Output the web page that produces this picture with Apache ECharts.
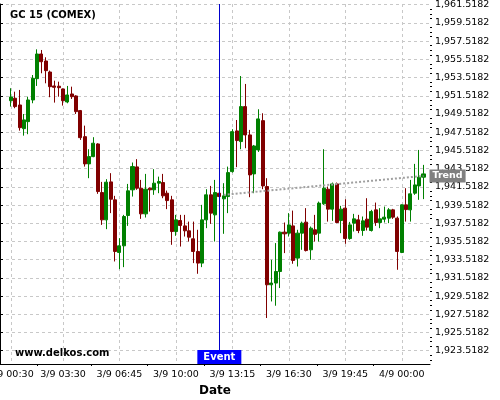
<!DOCTYPE html>
<html>
<head>
<meta charset="utf-8">
<script src="https://cdn.jsdelivr.net/npm/echarts@6/dist/echarts.min.js"></script>
<style>
  html, body { margin: 0; padding: 0; background: #fff; }
  #chart { width: 500px; height: 400px; }
</style>
</head>
<body>
<div id="chart"></div>
<script>
// 15 minute slots, 3/9 00:00 .. 4/9 01:30 (no quotes 22:00-22:45)
const times = [];
for (let m = 0; times.length < 99; m += 15) {
  const h = Math.floor(m / 60);
  if (h === 22) continue; // trading break
  const day = h < 24 ? '3/9' : '4/9';
  times.push(day + ' ' + String(h % 24).padStart(2, '0') + ':' + String(m % 60).padStart(2, '0'));
}

const tickLabels = ['3/9 00:30', '3/9 03:30', '3/9 06:45', '3/9 10:00',
                    '3/9 13:15', '3/9 16:30', '3/9 19:45', '4/9 00:00'];

const yTicks = [1923.5182, 1925.5182, 1927.5182, 1929.5182, 1931.5182, 1933.5182,
                1935.5182, 1937.5182, 1939.5182, 1941.5182, 1943.5182, 1945.5182,
                1947.5182, 1949.5182, 1951.5182, 1953.5182, 1955.5182, 1957.5182,
                1959.5182, 1961.5182];
const yMin = 1922.06;
const yMax = 1961.6;

// candles, first one at 3/9 00:30
const firstCandle = '3/9 00:30';
const opens = [
  1950.98, 1951.25, 1950.51, 1947.91, 1948.68, 1951.06, 1953.40, 1956.11,
  1955.34, 1954.13, 1952.60, 1952.57, 1952.27, 1950.84, 1951.72, 1951.50,
  1949.89, 1947.03, 1944.04, 1944.84, 1946.23, 1940.89, 1937.89, 1942.06,
  1940.09, 1934.31, 1935.04, 1938.37, 1941.19, 1943.71, 1941.37, 1938.55,
  1941.37, 1941.19, 1941.92, 1941.99, 1940.82, 1940.09, 1936.61, 1937.82,
  1937.23, 1936.69, 1935.81, 1934.42, 1933.14, 1937.89, 1940.64, 1938.44,
  1940.82, 1940.20, 1940.45, 1943.19, 1947.66, 1946.49, 1950.33, 1947.22,
  1942.94, 1945.57, 1948.79, 1941.55, 1930.76, 1930.95, 1932.22, 1936.54,
  1936.43, 1937.23, 1933.69, 1936.43, 1937.64, 1934.60, 1936.80, 1936.43,
  1939.65, 1941.26, 1939.07, 1941.84, 1937.82, 1939.18, 1935.84, 1937.53,
  1937.89, 1936.72, 1937.97, 1936.72, 1938.99, 1937.60, 1937.97, 1938.08,
  1938.99, 1938.08, 1934.31, 1939.54, 1938.99, 1940.82, 1941.62, 1942.58
];
const closes = [
  1951.39, 1950.33, 1948.02, 1948.87, 1951.06, 1953.44, 1956.11, 1955.26,
  1954.28, 1952.52, 1952.45, 1952.41, 1950.98, 1951.61, 1951.42, 1949.78,
  1946.92, 1944.04, 1944.84, 1946.31, 1941.00, 1937.89, 1942.03, 1940.16,
  1934.42, 1935.04, 1938.26, 1941.08, 1943.74, 1941.37, 1938.55, 1941.26,
  1941.19, 1941.92, 1942.10, 1940.53, 1940.01, 1936.61, 1937.89, 1937.27,
  1936.69, 1935.99, 1934.42, 1933.14, 1937.89, 1940.64, 1938.63, 1940.89,
  1940.45, 1940.53, 1943.08, 1947.58, 1946.60, 1950.33, 1947.22, 1942.83,
  1946.01, 1948.98, 1941.62, 1930.76, 1930.95, 1932.22, 1936.54, 1936.36,
  1937.34, 1933.43, 1936.43, 1937.53, 1934.52, 1936.98, 1936.30, 1939.73,
  1941.37, 1939.07, 1941.84, 1937.60, 1939.07, 1935.84, 1937.34, 1938.00,
  1936.72, 1937.78, 1937.09, 1938.80, 1937.60, 1938.00, 1938.19, 1938.99,
  1938.19, 1934.42, 1939.54, 1939.02, 1940.75, 1941.73, 1942.58, 1942.94
];
const lows = [
  1950.33, 1950.15, 1947.69, 1947.14, 1947.30, 1950.70, 1952.60, 1953.99,
  1952.89, 1951.36, 1950.77, 1951.42, 1950.44, 1950.70, 1951.17, 1949.52,
  1946.67, 1943.74, 1942.47, 1944.77, 1940.75, 1937.34, 1936.87, 1938.63,
  1933.32, 1932.48, 1932.70, 1937.23, 1940.45, 1941.19, 1938.00, 1938.15,
  1938.80, 1940.64, 1940.82, 1940.27, 1939.07, 1935.15, 1936.14, 1934.96,
  1936.06, 1935.51, 1933.14, 1931.97, 1932.70, 1936.98, 1937.45, 1935.51,
  1940.20, 1936.36, 1938.63, 1943.08, 1943.68, 1945.65, 1945.76, 1940.38,
  1940.82, 1945.35, 1941.26, 1927.11, 1928.93, 1928.46, 1930.40, 1934.24,
  1936.06, 1933.07, 1932.77, 1934.60, 1934.42, 1933.50, 1935.51, 1935.51,
  1939.54, 1937.70, 1937.78, 1937.53, 1936.43, 1935.26, 1935.70, 1936.61,
  1936.43, 1936.14, 1936.72, 1936.61, 1937.23, 1936.98, 1937.60, 1937.53,
  1938.00, 1932.41, 1934.24, 1937.70, 1937.70, 1940.64, 1940.09, 1940.17
];
const highs = [
  1952.35, 1951.97, 1952.16, 1949.52, 1951.42, 1953.80, 1956.62, 1956.55,
  1955.75, 1954.28, 1953.18, 1953.07, 1952.32, 1952.60, 1952.52, 1951.58,
  1949.96, 1948.24, 1945.65, 1946.97, 1946.31, 1942.06, 1942.36, 1943.02,
  1940.53, 1935.88, 1938.44, 1941.84, 1944.19, 1944.56, 1942.28, 1942.94,
  1941.46, 1943.46, 1942.64, 1942.94, 1941.11, 1940.53, 1938.44, 1938.44,
  1938.44, 1937.70, 1937.70, 1936.80, 1939.54, 1941.26, 1941.62, 1942.28,
  1941.19, 1941.92, 1943.74, 1947.85, 1948.86, 1953.69, 1952.82, 1947.77,
  1946.12, 1950.04, 1949.60, 1942.47, 1933.50, 1935.34, 1936.61, 1937.60,
  1938.63, 1938.91, 1936.80, 1937.70, 1939.18, 1937.16, 1938.44, 1939.90,
  1945.65, 1941.55, 1941.99, 1941.99, 1939.43, 1940.16, 1937.67, 1938.55,
  1938.44, 1938.26, 1940.27, 1938.99, 1939.79, 1939.18, 1939.35, 1939.18,
  1939.10, 1938.26, 1939.59, 1941.37, 1942.28, 1944.04, 1945.57, 1943.93
];

const eventTime = '3/9 12:30';
const trendTimes = ['3/9 12:45', '4/9 01:15'];
const trendValues = [1940.64, 1942.72];

const FONT = 'DejaVu Sans';

const first = times.indexOf(firstCandle);
const candleData = times.map((t, i) => {
  const k = i - first;
  if (k < 0 || k >= opens.length) return ['-', '-', '-', '-'];
  return [opens[k], closes[k], lows[k], highs[k]];
});

// minor ticks on the price axis, 4 per step
const minorTicks = [];
yTicks.forEach(v => {
  [-0.5, -1, -1.5].forEach(d => minorTicks.push(+(v + d).toFixed(4)));
});

// minor ticks on the time axis, half way between labels (slot centre = index + 0.5)
const labelIdx = tickLabels.map(t => times.indexOf(t));
const minorXTicks = [];
for (let i = 1; i < labelIdx.length; i++) {
  minorXTicks.push((labelIdx[i - 1] + labelIdx[i]) / 2 + 0.5);
}

const showTick = (i, v) => tickLabels.indexOf(v) >= 0;
const fmtPrice = v => v.toLocaleString('en-US', { minimumFractionDigits: 4, maximumFractionDigits: 4 });

const chart = echarts.init(document.getElementById('chart'), null, { renderer: 'canvas' });
chart.setOption({
  animation: false,
  backgroundColor: '#fff',
  textStyle: { fontFamily: FONT },
  title: [
    { text: 'GC 15 (COMEX)', left: 10, top: 10, padding: 0,
      textStyle: { fontFamily: FONT, fontSize: 10, fontWeight: 'bold', color: '#000' } },
    { text: 'www.delkos.com', left: 15, top: 348, padding: 0,
      textStyle: { fontFamily: FONT, fontSize: 10, fontWeight: 'bold', color: '#000' } }
  ],
  grid: { left: 0, right: 70, top: 4, bottom: 36, containLabel: false, outerBoundsMode: 'none' },
  xAxis: [
    {
      type: 'category',
      data: times,
      boundaryGap: true,
      name: 'Date',
      nameLocation: 'middle',
      nameGap: 18,
      nameTextStyle: { fontFamily: FONT, fontSize: 12, fontWeight: 'bold', color: '#000' },
      axisLine: { lineStyle: { color: '#000', width: 1 } },
      axisTick: { interval: showTick, alignWithLabel: true, length: 4, lineStyle: { color: '#000' } },
      axisLabel: { interval: showTick, margin: 6, fontFamily: FONT, fontSize: 9.5, color: '#000' },
      splitLine: { show: true, interval: showTick, alignWithLabel: true,
                   lineStyle: { color: '#c8c8c8', type: [3, 3], width: 1 } }
    },
    {
      type: 'value',
      position: 'bottom',
      min: 0,
      max: times.length,
      axisLine: { show: false },
      axisTick: { show: true, customValues: minorXTicks, length: 2, lineStyle: { color: '#000' } },
      axisLabel: { show: false },
      splitLine: { show: false }
    }
  ],
  yAxis: [
    {
      type: 'value',
      position: 'right',
      min: yMin,
      max: yMax,
      axisLine: { show: true, lineStyle: { color: '#000', width: 1 } },
      axisTick: { show: true, customValues: yTicks, length: 3, lineStyle: { color: '#000' } },
      axisLabel: { customValues: yTicks, formatter: fmtPrice, margin: 5,
                   fontFamily: FONT, fontSize: 9.5, color: '#000' },
      splitLine: { show: true, lineStyle: { color: '#c8c8c8', type: [3, 3], width: 1 } }
    },
    {
      type: 'value',
      position: 'right',
      min: yMin,
      max: yMax,
      axisLine: { show: false },
      axisTick: { show: true, customValues: minorTicks, length: 2, lineStyle: { color: '#000' } },
      axisLabel: { show: false },
      splitLine: { show: false }
    }
  ],
  series: [
    {
      type: 'candlestick',
      data: candleData,
      barWidth: '82%',
      itemStyle: {
        color: '#008000', color0: '#800000',
        borderColor: '#008000', borderColor0: '#800000', borderWidth: 1
      },
      markLine: {
        silent: true,
        symbol: ['none', 'none'],
        label: { show: false },
        lineStyle: { color: '#0000cc', type: 'solid', width: 1 },
        data: [{ xAxis: eventTime }]
      },
      markPoint: {
        silent: true,
        data: [{
          coord: [eventTime, yMin],
          symbol: 'rect',
          symbolSize: [44, 14],
          symbolOffset: [0, -7],
          itemStyle: { color: '#0000ff' },
          label: { show: true, position: 'inside', formatter: 'Event', color: '#fff',
                   fontFamily: FONT, fontSize: 10, fontWeight: 'bold' }
        }]
      }
    },
    {
      type: 'line',
      data: trendTimes.map((t, i) => [t, trendValues[i]]),
      symbol: 'none',
      silent: true,
      lineStyle: { color: '#a0a0a0', type: 'dotted', width: 2 },
      endLabel: {
        show: true,
        formatter: 'Trend',
        distance: 6,
        color: '#fff',
        backgroundColor: '#808080',
        padding: [2, 3, 1, 3],
        fontFamily: FONT,
        fontSize: 9.5,
        fontWeight: 'bold'
      }
    }
  ]
});
</script>
</body>
</html>
